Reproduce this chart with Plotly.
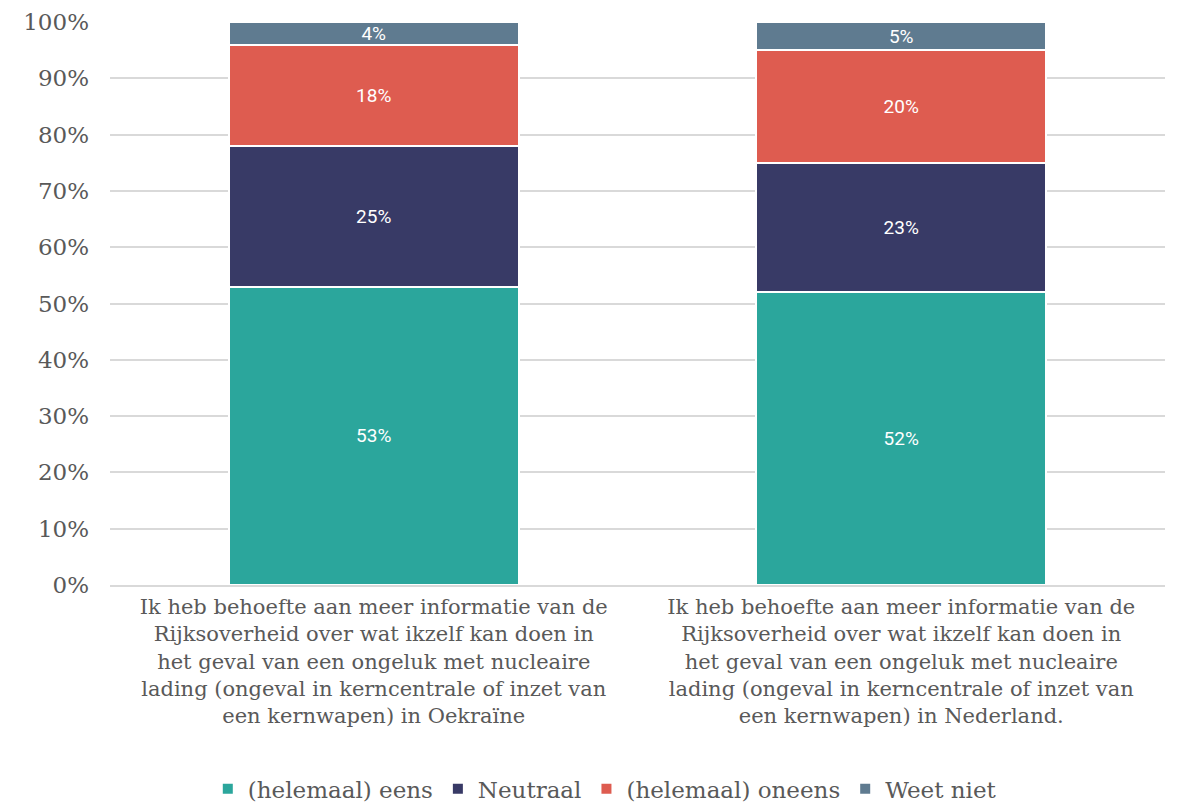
import plotly.graph_objects as go

categories = [
    "Ik heb behoefte aan meer informatie van de<br>Rijksoverheid over wat ikzelf kan doen in<br>het geval van een ongeluk met nucleaire<br>lading (ongeval in kerncentrale of inzet van<br>een kernwapen) in Oekraïne",
    "Ik heb behoefte aan meer informatie van de<br>Rijksoverheid over wat ikzelf kan doen in<br>het geval van een ongeluk met nucleaire<br>lading (ongeval in kerncentrale of inzet van<br>een kernwapen) in Nederland.",
]
eens = [53, 52]
neutraal = [25, 23]
oneens = [18, 20]
weet_niet = [4, 5]

series = [
    ("(helemaal) eens", eens, "#2BA69C"),
    ("Neutraal", neutraal, "#383A66"),
    ("(helemaal) oneens", oneens, "#DE5C50"),
    ("Weet niet", weet_niet, "#5F7B90"),
]

fig = go.Figure()
for name, vals, color in series:
    fig.add_trace(go.Bar(
        name=name, x=categories, y=vals,
        marker=dict(color=color, line=dict(color="white", width=2)),
        text=[f"{v}%" for v in vals], textposition="inside",
        insidetextanchor="middle", constraintext="none", textangle=0,
        textfont=dict(family="Roboto", size=19, color="white"),
    ))

fig.update_layout(
    barmode="stack", bargap=0.45,
    width=1181, height=804,
    margin=dict(l=102, r=24, t=14, b=227, autoexpand=False),
    plot_bgcolor="white", paper_bgcolor="white",
    font=dict(family="DejaVu Serif", size=21, color="#595959"),
    legend=dict(orientation="h", x=0.469, xanchor="center", y=-0.362, yanchor="middle",
                font=dict(size=23), traceorder="normal", itemwidth=30),
)
fig.update_yaxes(range=[0, 100], dtick=10, ticksuffix="%", gridcolor="#D9D9D9",
                 gridwidth=1.5, zeroline=False, tickfont=dict(size=23), ticks="",
                 ticklabelstandoff=20, ticklabeloverflow="allow", automargin=False)
fig.update_xaxes(showline=True, linecolor="#D9D9D9", linewidth=1.5,
                 tickfont=dict(size=21), ticklabelstandoff=2, automargin=False)

fig.write_html("out.html")
